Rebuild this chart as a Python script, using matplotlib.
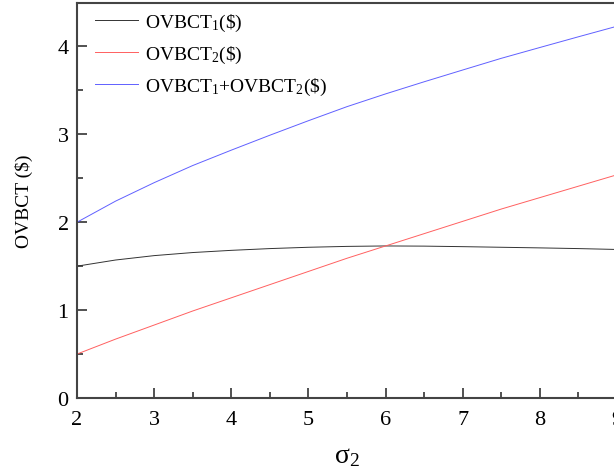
import matplotlib
matplotlib.use('Agg')
import matplotlib.pyplot as plt
import numpy as np
from matplotlib.ticker import MultipleLocator

plt.rcParams['font.family'] = ['Liberation Serif', 'DejaVu Serif']
plt.rcParams['mathtext.fontset'] = 'custom'
plt.rcParams['mathtext.rm'] = 'Liberation Serif'
plt.rcParams['mathtext.it'] = 'Liberation Serif:italic'
plt.rcParams['mathtext.sf'] = 'Liberation Serif'

# values
sigma2 = [2.0, 2.5, 3.0, 3.5, 4.0, 4.5, 5.0, 5.5, 6.0, 6.5, 7.0, 7.5, 8.0, 8.5, 9.0, 9.5]
ovbct1 = [1.50, 1.57, 1.62, 1.655, 1.68, 1.70, 1.715, 1.725, 1.73, 1.728, 1.722, 1.715, 1.708, 1.70, 1.69, 1.68]
ovbct2 = [0.50, 0.67, 0.83, 0.99, 1.14, 1.29, 1.44, 1.59, 1.73, 1.87, 2.01, 2.15, 2.28, 2.41, 2.54, 2.67]
total = list(np.array(ovbct1) + np.array(ovbct2))

fig = plt.figure(figsize=(6.14, 4.77), dpi=100)
ax = fig.add_axes([77 / 614, 78 / 477, 540 / 614, 395.5 / 477])

ax.plot(sigma2, ovbct1, color='#333333', lw=0.7, label=r'OVBCT$_1$(\$)')
ax.plot(sigma2, ovbct2, color='#ff6060', lw=0.7, label=r'OVBCT$_2$(\$)')
ax.plot(sigma2, total, color='#6060ff', lw=0.7, label=r'OVBCT$_1$+OVBCT$_2$(\$)')

ax.set_xlim(2, 9)
ax.set_ylim(0, 4.5)
ax.xaxis.set_major_locator(MultipleLocator(1))
ax.xaxis.set_minor_locator(MultipleLocator(0.5))
ax.yaxis.set_major_locator(MultipleLocator(1))
ax.yaxis.set_minor_locator(MultipleLocator(0.5))
ax.tick_params(which='both', direction='in', top=False, right=False, labelsize=16, width=1.2, color='#333333')
ax.tick_params(which='major', length=7)
ax.tick_params(axis='x', which='major', pad=9)
ax.tick_params(axis='y', which='major', pad=6)
ax.tick_params(which='minor', length=4)
for s in ax.spines.values():
    s.set_linewidth(1.5)
    s.set_color('#444444')

ax.set_xlabel('σ$_2$', fontsize=20, labelpad=10)
ax.set_ylabel('OVBCT ($)', fontsize=14, labelpad=18)

leg = ax.legend(loc='upper left', bbox_to_anchor=(0.016, 1.0), frameon=False, fontsize=14,
                handlelength=2.2, handletextpad=0.35, labelspacing=0.55, borderaxespad=0.1)

fig.savefig('out.png', dpi=100)
